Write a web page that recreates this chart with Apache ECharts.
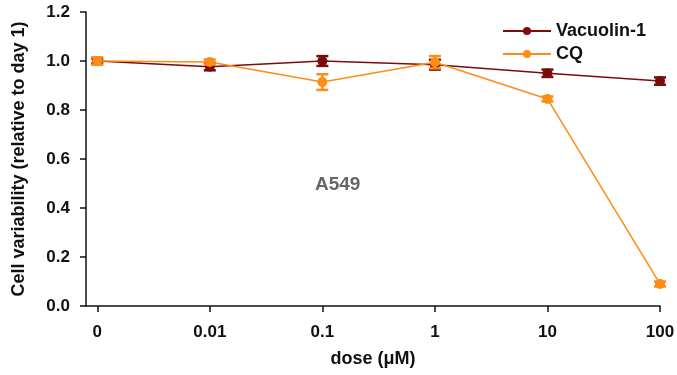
<!DOCTYPE html>
<html>
<head>
<meta charset="utf-8">
<script src="https://cdn.jsdelivr.net/npm/echarts@6/dist/echarts.min.js"></script>
<style>
  html, body { margin: 0; padding: 0; background: #fff; }
  #chart { width: 677px; height: 375px; }
</style>
</head>
<body>
<div id="chart"></div>
<script>
const doses = ["0", "0.01", "0.1", "1", "10", "100"];
const vacuolinMean = [1.0, 0.977, 1.0, 0.985, 0.95, 0.918];
const vacuolinErr = [0.01, 0.015, 0.02, 0.02, 0.015, 0.015];
const cqMean = [1.0, 0.996, 0.914, 0.995, 0.845, 0.09];
const cqErr = [0.015, 0.01, 0.032, 0.025, 0.01, 0.01];
const yTicks = [0, 0.2, 0.4, 0.6, 0.8, 1.0, 1.2];

const VAC_COLOR = "#7a0c0c";
const CQ_COLOR = "#ff8c14";
const FONT = "Liberation Sans, Arial, sans-serif";

const chart = echarts.init(document.getElementById("chart"));

function errorSeries(name, mean, err, color, z) {
    return {
        name: name,
        type: "custom",
        z: z,
        data: mean.map((m, i) => [i, m - err[i], m + err[i]]),
        renderItem(params, api) {
            const lo = api.coord([api.value(0), api.value(1)]);
            const hi = api.coord([api.value(0), api.value(2)]);
            const half = 6;
            const style = { stroke: color, lineWidth: 2.5 };
            return {
                type: "group",
                children: [
                    { type: "line", shape: { x1: lo[0], y1: lo[1], x2: hi[0], y2: hi[1] }, style },
                    { type: "line", shape: { x1: lo[0] - half, y1: lo[1], x2: lo[0] + half, y2: lo[1] }, style },
                    { type: "line", shape: { x1: hi[0] - half, y1: hi[1], x2: hi[0] + half, y2: hi[1] }, style }
                ]
            };
        }
    };
}

function lineSeries(name, mean, color, z) {
    return {
        name: name,
        type: "line",
        z: z,
        data: mean.map((m, i) => [i, m]),
        symbol: "circle",
        symbolSize: 10,
        lineStyle: { color: color, width: 1.5 },
        itemStyle: { color: color },
        emphasis: { disabled: true }
    };
}

chart.setOption({
    animation: false,
    textStyle: { fontFamily: FONT },
    grid: { left: 86, right: 17, top: 12, bottom: 69, outerBoundsMode: "none", containLabel: false },
    legend: {
        data: ["Vacuolin-1", "CQ"],
        orient: "vertical",
        left: 497,
        top: 17,
        itemWidth: 48,
        itemHeight: 10,
        itemGap: 5,
        textStyle: { fontSize: 18, fontWeight: "bold", color: "#111", fontFamily: FONT }
    },
    xAxis: {
        type: "value",
        min: -0.1,
        max: 5,
        interval: 1,
        name: "dose (\u03bcM)",
        nameLocation: "middle",
        nameGap: 44,
        nameTextStyle: { fontSize: 18, fontWeight: "bold", color: "#111" },
        axisLine: { onZero: false, lineStyle: { color: "#111", width: 1.5 } },
        axisTick: { show: true, length: 6, lineStyle: { color: "#111", width: 1.5 },
            customValues: [0, 1, 2, 3, 4, 5] },
        axisLabel: {
            customValues: [0, 1, 2, 3, 4, 5],
            formatter: v => doses[Math.round(v)],
            fontSize: 17, fontWeight: "bold", color: "#111", margin: 18
        },
        splitLine: { show: false }
    },
    yAxis: {
        type: "value",
        min: 0,
        max: 1.2,
        interval: 0.2,
        name: "Cell variability (relative to day 1)",
        nameLocation: "middle",
        nameGap: 58,
        nameTextStyle: { fontSize: 18, fontWeight: "bold", color: "#111" },
        axisLine: { show: true, onZero: false, lineStyle: { color: "#111", width: 1.5 } },
        axisTick: { show: true, length: 6, lineStyle: { color: "#111", width: 1.5 } },
        axisLabel: {
            formatter: v => yTicks.find(t => Math.abs(t - v) < 1e-6).toFixed(1),
            fontSize: 17, fontWeight: "bold", color: "#111", margin: 16
        },
        splitLine: { show: false }
    },
    graphic: [{
        type: "text",
        left: 315,
        top: 175,
        style: { text: "A549", fontSize: 19, fontWeight: "bold", fill: "#666", fontFamily: FONT }
    }],
    series: [
        lineSeries("Vacuolin-1", vacuolinMean, VAC_COLOR, 2),
        errorSeries("Vacuolin-1 err", vacuolinMean, vacuolinErr, VAC_COLOR, 3),
        lineSeries("CQ", cqMean, CQ_COLOR, 4),
        errorSeries("CQ err", cqMean, cqErr, CQ_COLOR, 5)
    ]
});
</script>
</body>
</html>
